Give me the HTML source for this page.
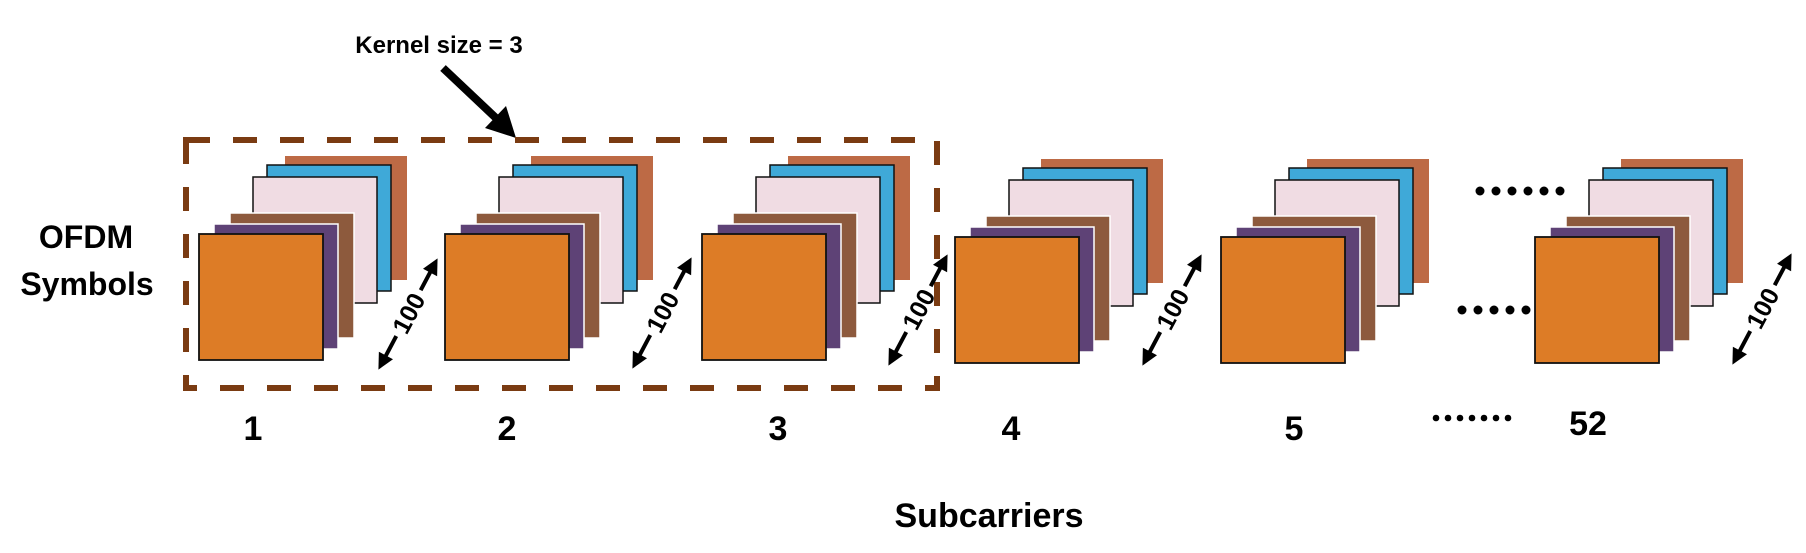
<!DOCTYPE html>
<html><head><meta charset="utf-8"><style>
html,body{margin:0;padding:0;background:#fff;}
svg{display:block;}
text{font-family:"Liberation Sans",sans-serif;font-weight:bold;fill:#000;}
</style></head><body>
<svg width="1806" height="553" viewBox="0 0 1806 553" xmlns="http://www.w3.org/2000/svg">
<defs>
<g id="stk">
  <rect x="86" y="-78" width="122" height="124" fill="#bd6a45"/>
  <rect x="68" y="-69" width="124" height="126" fill="#3fa9d8" stroke="#111" stroke-width="1.5"/>
  <rect x="54" y="-57" width="124" height="126" fill="#f0dce3" stroke="#111" stroke-width="1.5"/>
  <rect x="31" y="-21" width="124" height="125" fill="#8d5a3d" stroke="#fff" stroke-width="1.5"/>
  <rect x="15" y="-10" width="124" height="125" fill="#5e4276" stroke="#fff" stroke-width="1.5"/>
  <rect x="0" y="0" width="124" height="126" fill="#dd7c26" stroke="#111" stroke-width="1.8"/>
</g>
<g id="arr">
  <line x1="-25" y1="0" x2="-50" y2="0" stroke="#000" stroke-width="4"/>
  <polygon points="-63,0 -47,-8 -47,8" fill="#000"/>
  <line x1="27" y1="0" x2="50" y2="0" stroke="#000" stroke-width="4"/>
  <polygon points="63,0 47,-8 47,8" fill="#000"/>
  <text x="1" y="9" font-size="25" text-anchor="middle">100</text>
</g>
</defs>

<text x="439" y="53" font-size="24" text-anchor="middle">Kernel size = 3</text>
<line x1="443" y1="68" x2="497" y2="119" stroke="#000" stroke-width="8"/>
<polygon points="516,138 485,128 506,106" fill="#000"/>

<use href="#stk" x="199" y="234"/>
<use href="#stk" x="445" y="234"/>
<use href="#stk" x="702" y="234"/>
<use href="#stk" x="955" y="237"/>
<use href="#stk" x="1221" y="237"/>
<use href="#stk" x="1535" y="237"/>

<rect x="186" y="140" width="751" height="248" fill="none" stroke="#7a3b12" stroke-width="6" stroke-dasharray="24,23"/>

<g transform="translate(408,314) rotate(-62)"><use href="#arr"/></g>
<g transform="translate(662,313) rotate(-62)"><use href="#arr"/></g>
<g transform="translate(918,310) rotate(-62)"><use href="#arr"/></g>
<g transform="translate(1172,310) rotate(-62)"><use href="#arr"/></g>
<g transform="translate(1762,309) rotate(-62)"><use href="#arr"/></g>

<g fill="#000">
  <circle cx="1480" cy="191" r="4.5"/><circle cx="1496" cy="191" r="4.5"/><circle cx="1512" cy="191" r="4.5"/><circle cx="1528" cy="191" r="4.5"/><circle cx="1544" cy="191" r="4.5"/><circle cx="1560" cy="191" r="4.5"/>
  <circle cx="1462" cy="310" r="4.5"/><circle cx="1478" cy="310" r="4.5"/><circle cx="1494" cy="310" r="4.5"/><circle cx="1510" cy="310" r="4.5"/><circle cx="1526" cy="310" r="4.5"/>
  <circle cx="1436" cy="418" r="3.3"/><circle cx="1448" cy="418" r="3.3"/><circle cx="1460" cy="418" r="3.3"/><circle cx="1472" cy="418" r="3.3"/><circle cx="1484" cy="418" r="3.3"/><circle cx="1496" cy="418" r="3.3"/><circle cx="1508" cy="418" r="3.3"/>
</g>

<text x="86" y="248" font-size="32" text-anchor="middle">OFDM</text>
<text x="87" y="295" font-size="32" text-anchor="middle">Symbols</text>

<text x="253" y="440" font-size="34" text-anchor="middle">1</text>
<text x="507" y="440" font-size="34" text-anchor="middle">2</text>
<text x="778" y="440" font-size="34" text-anchor="middle">3</text>
<text x="1011" y="440" font-size="34" text-anchor="middle">4</text>
<text x="1294" y="440" font-size="34" text-anchor="middle">5</text>
<text x="1588" y="435" font-size="34" text-anchor="middle">52</text>

<text x="989" y="527" font-size="34" text-anchor="middle">Subcarriers</text>
</svg>
</body></html>
